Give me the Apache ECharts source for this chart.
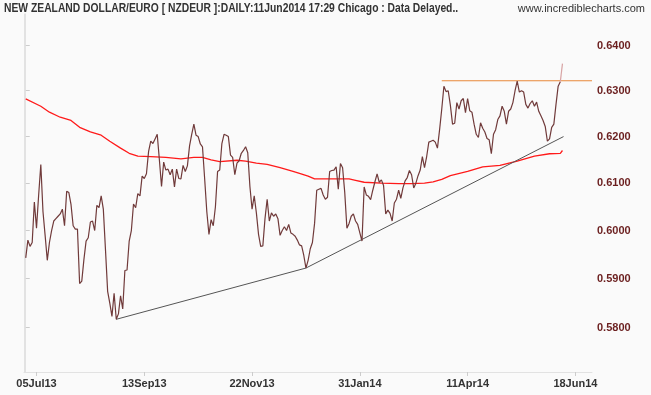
<!DOCTYPE html>
<html>
<head>
<meta charset="utf-8">
<script src="https://cdn.jsdelivr.net/npm/echarts@6/dist/echarts.min.js"></script>
<style>
html,body{margin:0;padding:0;background:#fafafa;}
#chart{width:651px;height:395px;}
</style>
</head>
<body>
<div id="chart"></div>
<script>
// ---- data (trading-day index 0 = 28 Jun 2013) ----
const titleText = 'NEW ZEALAND DOLLAR/EURO [ NZDEUR ]:DAILY:11Jun2014 17:29 Chicago : Data Delayed..';
const siteText = 'www.incrediblecharts.com';

const xTickIdx = [5, 55, 105, 155, 205, 255];
const xTickLabels = ['05Jul13', '13Sep13', '22Nov13', '31Jan14', '11Apr14', '18Jun14'];
const yTickVals = [0.58, 0.59, 0.60, 0.61, 0.62, 0.63, 0.64];

const closes = [
  0.5943, 0.5980, 0.5967, 0.5975, 0.6060, 0.6005, 0.6075, 0.6140, 0.6040, 0.5990,
  0.5938, 0.5975, 0.6000, 0.6020, 0.6025, 0.6030, 0.6035, 0.6045, 0.6010, 0.6083,
  0.6080, 0.6055, 0.6010, 0.6003, 0.6003, 0.5890, 0.5895, 0.5940, 0.5978, 0.5985,
  0.6018, 0.6020, 0.6000, 0.6053, 0.6048, 0.6073, 0.6045, 0.5960, 0.5874, 0.5850,
  0.5823, 0.5870, 0.5817, 0.5828, 0.5865, 0.5838, 0.5917, 0.5918, 0.5978, 0.6000,
  0.6056, 0.6048, 0.6078, 0.6073, 0.6115, 0.6110, 0.6120, 0.6168, 0.6190, 0.6185,
  0.6195, 0.6205, 0.6150, 0.6093, 0.6145, 0.6128, 0.6130, 0.6118, 0.6130, 0.6092,
  0.6130, 0.6110, 0.6109, 0.6138, 0.6125, 0.6137, 0.6180, 0.6205, 0.6227, 0.6203,
  0.6200, 0.6184, 0.6178, 0.6110, 0.6040, 0.5992, 0.6023, 0.6010, 0.6050, 0.6125,
  0.6128, 0.6185, 0.6205, 0.6203, 0.6200, 0.6160, 0.6155, 0.6118, 0.6143, 0.6148,
  0.6164, 0.6170, 0.6178, 0.6165, 0.6093, 0.6045, 0.6073, 0.6037, 0.5992, 0.5967,
  0.5968, 0.6025, 0.6066, 0.6020, 0.6037, 0.6030, 0.6035, 0.6025, 0.5990, 0.6000,
  0.6008, 0.6000, 0.6013, 0.5995, 0.5992, 0.5988, 0.5980, 0.5970, 0.5968, 0.5948,
  0.5922, 0.5938, 0.5962, 0.5975, 0.6015, 0.6085, 0.6087, 0.6089, 0.6075, 0.6066,
  0.6070, 0.6125, 0.6127, 0.6128, 0.6135, 0.6087, 0.6142, 0.6133, 0.6080, 0.6005,
  0.6015, 0.6030, 0.6035, 0.6020, 0.6013, 0.5995, 0.5978, 0.6092, 0.6075, 0.6072,
  0.6065, 0.6085, 0.6103, 0.6120, 0.6102, 0.6107, 0.6095, 0.6035, 0.6043, 0.6036,
  0.6020, 0.6058, 0.6066, 0.6085, 0.6068, 0.6090, 0.6105, 0.6112, 0.6127, 0.6118,
  0.6090, 0.6100, 0.6116, 0.6128, 0.6157, 0.6133, 0.6157, 0.6188, 0.6190, 0.6192,
  0.6188, 0.6175, 0.6215, 0.6260, 0.6310, 0.6298, 0.6300, 0.6268, 0.6227, 0.6229,
  0.6274, 0.6260, 0.6278, 0.6283, 0.6252, 0.6283, 0.6256, 0.6253, 0.6227, 0.6205,
  0.6198, 0.6230, 0.6218, 0.6210, 0.6196, 0.6193, 0.6163, 0.6205, 0.6215, 0.6237,
  0.6245, 0.6266, 0.6255, 0.6227, 0.6255, 0.6260, 0.6274, 0.6300, 0.6321, 0.6297,
  0.6300, 0.6297, 0.6270, 0.6262, 0.6272, 0.6278, 0.6266, 0.6275, 0.6255, 0.6245,
  0.6235, 0.6222, 0.6190, 0.6195, 0.6220, 0.6227, 0.6270, 0.6310, 0.6320, 0.6360
];

// moving average (red), sampled
const maIdx = [0, 7, 11, 16, 21, 25, 30, 35, 39, 44, 48, 52, 58, 65, 72, 78, 82, 86, 90, 98,
  102, 107, 112, 118, 124, 127, 131, 134, 142, 150, 153, 157, 165, 173, 179, 185, 189, 193, 197, 205,
  212, 220, 228, 236, 243, 248, 249];
const maVals = [0.6282, 0.6266, 0.6253, 0.6242, 0.6235, 0.6220, 0.6210, 0.6203, 0.6190, 0.6175,
  0.6164, 0.6158, 0.6157, 0.6155, 0.6152, 0.6155, 0.6155, 0.6150, 0.6146, 0.6149,
  0.6147, 0.6143, 0.6140, 0.6133, 0.6125, 0.6121, 0.6115, 0.6109, 0.6109, 0.6109,
  0.6106, 0.6102, 0.6100, 0.6099, 0.6099, 0.6100, 0.6103, 0.6108, 0.6116, 0.6125,
  0.6135, 0.6138, 0.6147, 0.6158, 0.6163, 0.6164, 0.6170];

// support trendline (grey)
const trendIdx = [42, 130, 249.5];
const trendVals = [0.5817, 0.5922, 0.6200];

// resistance (horizontal)
const resistStartIdx = 193;
const resistLevel = 0.6322;

// ---- chart ----
const X_MIN = -0.8, X_MAX = 262.7;
const Y_MIN = Math.log(0.5711), Y_MAX = Math.log(0.6471);
const L = Math.log;

const pricePts = closes.slice(0, closes.length - 1).map((v, i) => [i, L(v)]);
const lastN = closes.length - 1;
const tailPts = [[lastN - 1, L(closes[lastN - 1])], [lastN, L(closes[lastN])]];
const maPts = maIdx.map((x, k) => [x, L(maVals[k])]);
const trendPts = trendIdx.map((x, k) => [x, L(trendVals[k])]);
const resistPts = [[resistStartIdx, L(resistLevel)], [X_MAX, L(resistLevel)]];

const FONT = '"Liberation Sans", Arial, sans-serif';
const chart = echarts.init(document.getElementById('chart'), null, {renderer: 'canvas'});
const borderColor = '#e2e2e2';
chart.setOption({
  backgroundColor: '#fafafa',
  animation: false,
  graphic: [
    {type: 'text', left: 4, top: 3, scaleX: 0.86, silent: true,
     style: {text: titleText, font: 'bold 12px ' + FONT, fill: '#333333'}},
    {type: 'text', right: 6, top: 3, silent: true,
     style: {text: siteText, font: '11px ' + FONT, fill: '#333333'}}
  ],
  grid: {left: 24, right: 59, top: 14, bottom: 23, containLabel: false},
  xAxis: {
    type: 'value', min: X_MIN, max: X_MAX,
    axisLine: {show: true, lineStyle: {color: borderColor, width: 1}},
    axisTick: {show: true, customValues: xTickIdx, length: 4, lineStyle: {color: '#cccccc'}},
    axisLabel: {
      customValues: xTickIdx, margin: 6,
      formatter: v => { const k = xTickIdx.indexOf(Math.round(v)); return k >= 0 ? xTickLabels[k] : ''; },
      fontFamily: FONT, fontSize: 11, fontWeight: 'bold', color: '#333333'
    },
    splitLine: {show: false}
  },
  yAxis: [
    {
      type: 'value', position: 'right', min: Y_MIN, max: Y_MAX,
      axisLine: {show: true, lineStyle: {color: borderColor, width: 1}},
      axisTick: {show: true, customValues: yTickVals.map(L), length: 4, lineStyle: {color: '#cccccc'}},
      axisLabel: {
        customValues: yTickVals.map(L), margin: 5,
        formatter: v => Math.exp(v).toFixed(4),
        fontFamily: FONT, fontSize: 11, fontWeight: 'bold', color: '#6b1f1f'
      },
      splitLine: {show: false}
    },
    {
      type: 'value', position: 'left', min: Y_MIN, max: Y_MAX,
      axisLine: {show: true, lineStyle: {color: borderColor, width: 1}},
      axisTick: {show: false}, axisLabel: {show: false}, splitLine: {show: false}
    }
  ],
  series: [
    {type: 'line', name: 'MA', data: maPts, showSymbol: false, silent: true,
     lineStyle: {color: '#ff1a1a', width: 1.3}, z: 2},
    {type: 'line', name: 'trend', data: trendPts, showSymbol: false, silent: true,
     lineStyle: {color: '#555555', width: 1}, z: 3},
    {type: 'line', name: 'resistance', data: resistPts, showSymbol: false, silent: true,
     lineStyle: {color: '#e8893a', width: 1}, z: 3},
    {type: 'line', name: 'NZDEUR', data: pricePts, showSymbol: false, silent: true,
     lineStyle: {color: '#703a3a', width: 1.2}, z: 4},
    {type: 'line', name: 'NZDEUR live', data: tailPts, showSymbol: false, silent: true,
     lineStyle: {color: '#d8a4a4', width: 1.2}, z: 4}
  ]
});
</script>
</body>
</html>
